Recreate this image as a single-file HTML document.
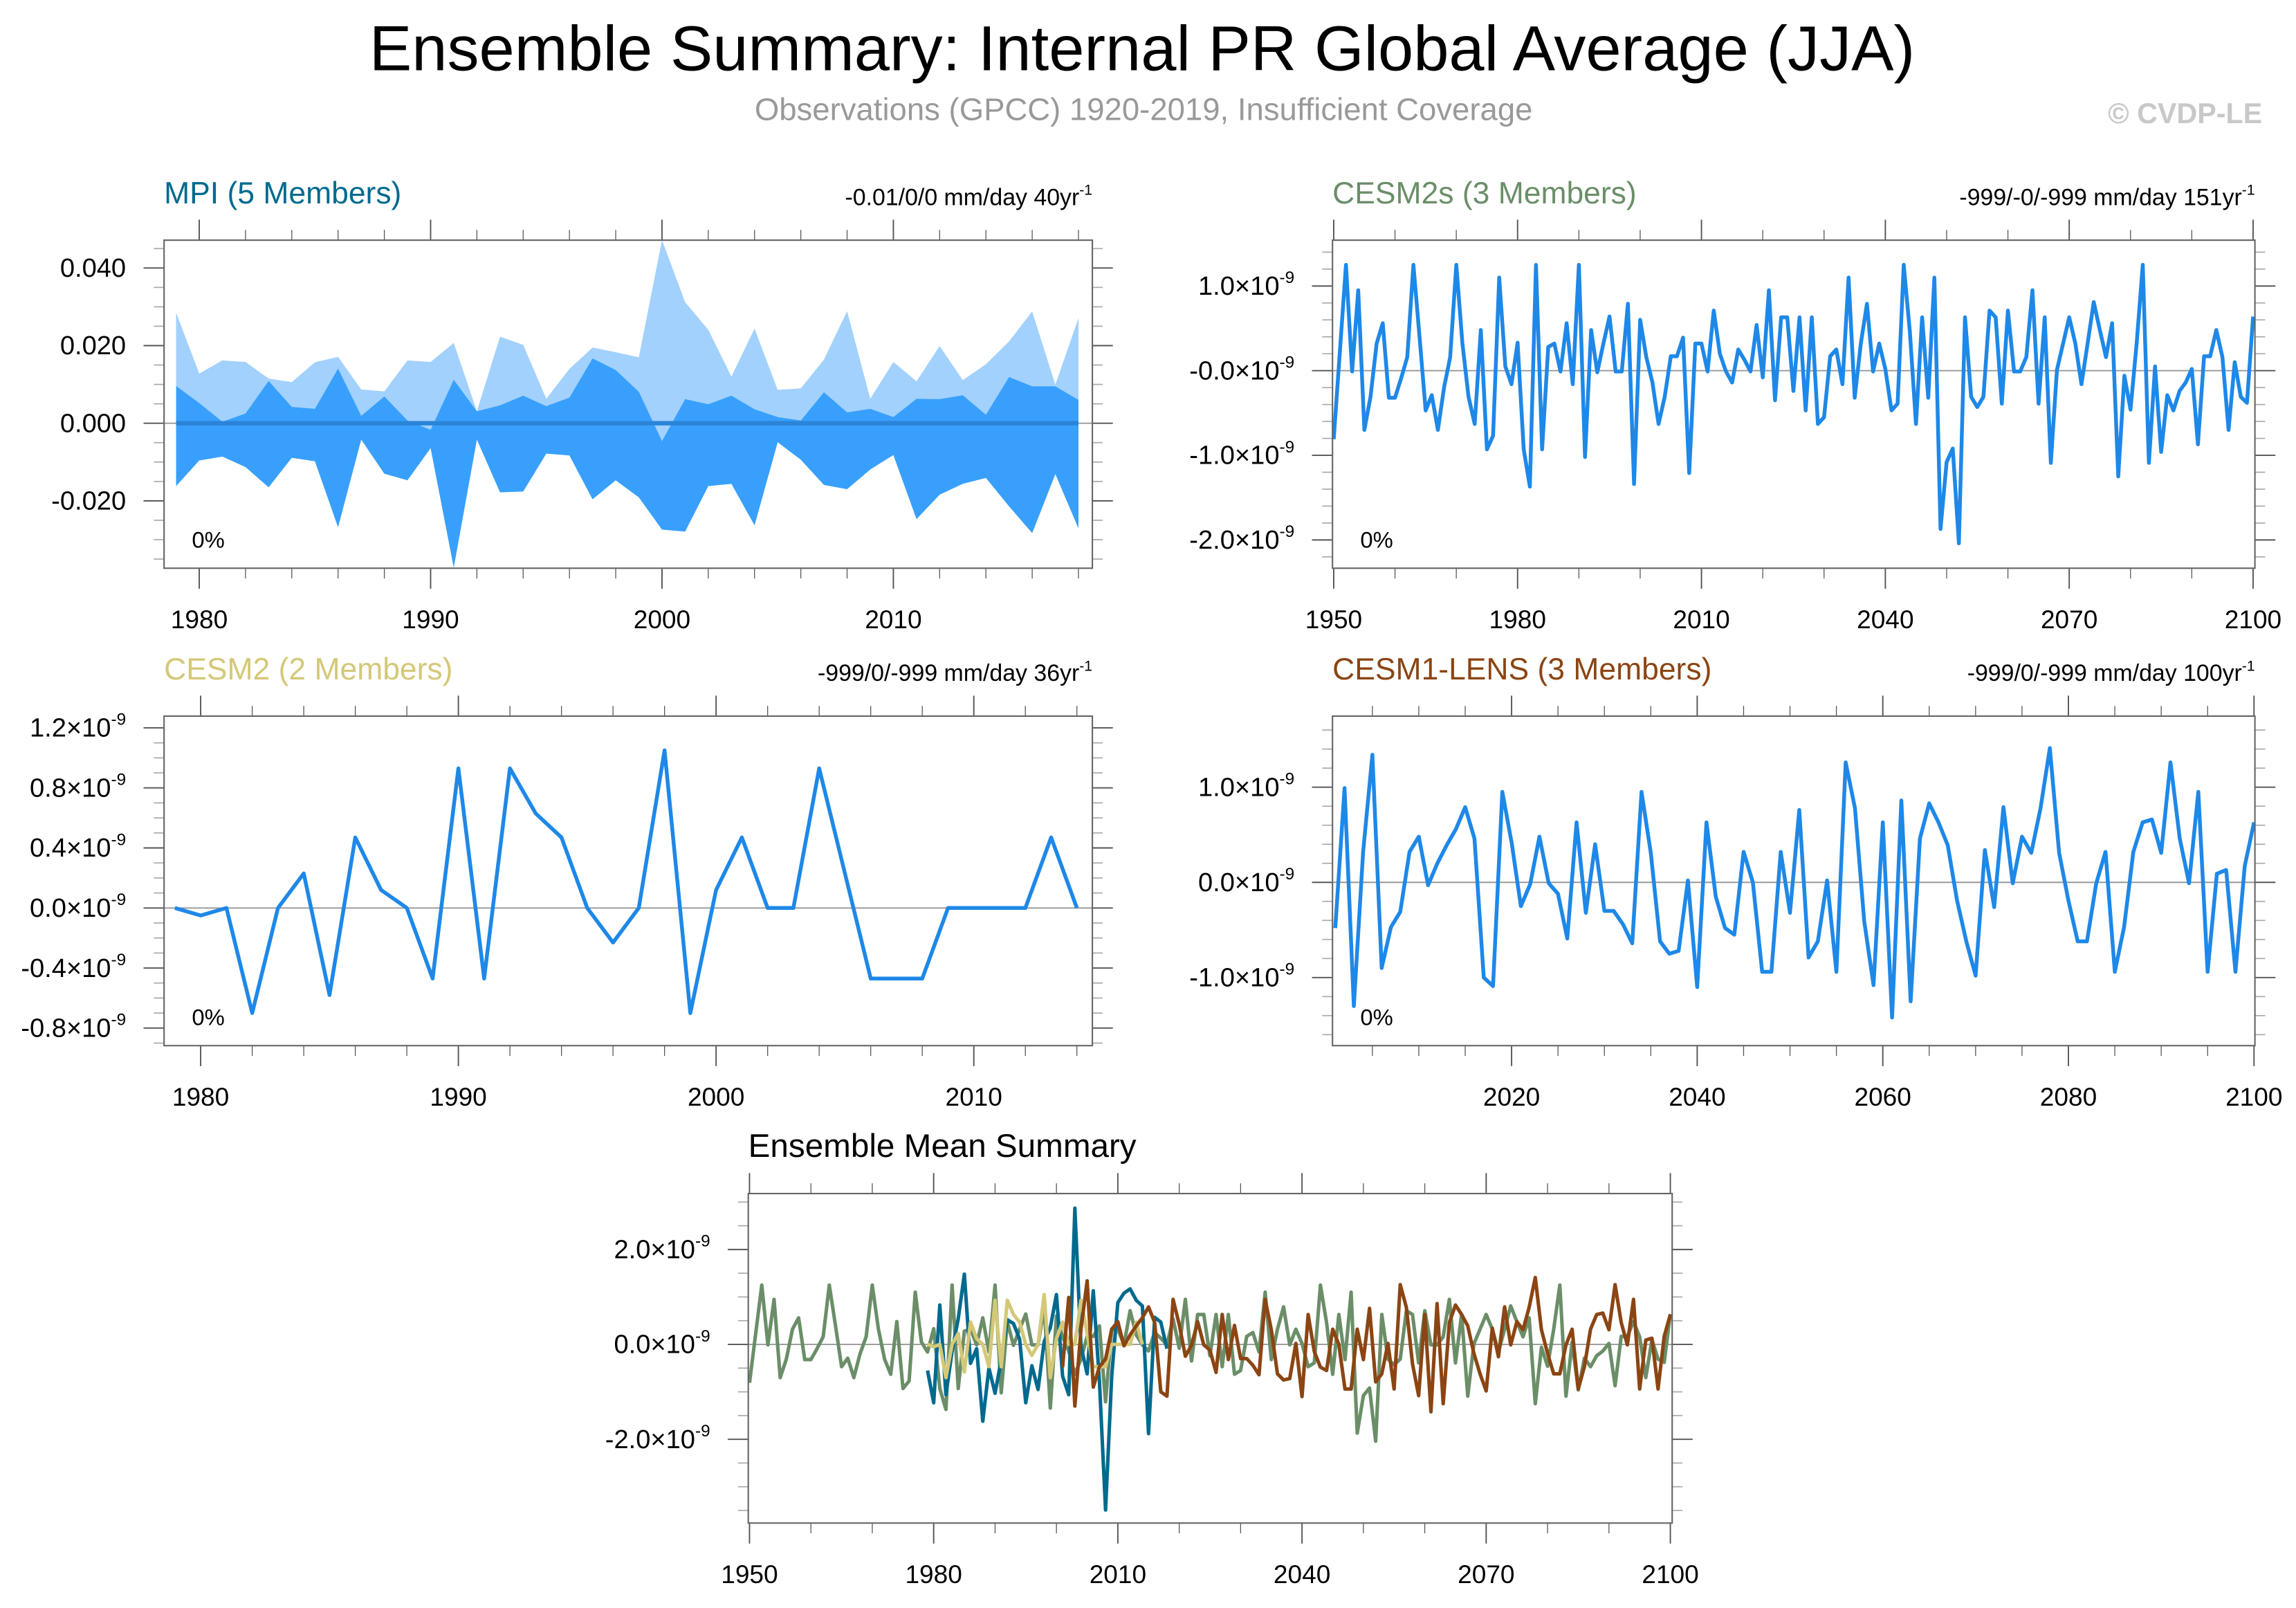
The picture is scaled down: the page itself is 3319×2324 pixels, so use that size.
<!DOCTYPE html>
<html><head><meta charset="utf-8"><style>
html,body{margin:0;padding:0;background:#fff}
svg{display:block;font-family:"Liberation Sans",sans-serif}
</style></head><body>
<svg id="chart" width="3319" height="2324" viewBox="0 0 1568 1098" xmlns="http://www.w3.org/2000/svg">
<rect x="0" y="0" width="1568" height="1098" fill="#fff"/>
<text x="780" y="48" font-size="43.5" text-anchor="middle" fill="#000">Ensemble Summary: Internal PR Global Average (JJA)</text>
<text x="781" y="82" font-size="21.5" text-anchor="middle" fill="#999">Observations (GPCC) 1920-2019, Insufficient Coverage</text>
<text x="1545" y="84" font-size="19.5" font-weight="bold" text-anchor="end" fill="#c8c8c8">© CVDP-LE</text>
<g id="panels"></g>
</svg>
<script>
// ---- data ----
const mpiYears = Array.from({length:40},(_,i)=>1979+i);
const mpiMax = [28.5,12.8,16.2,15.8,11.5,10.6,15.7,17.1,8.7,8.2,16.2,15.8,20.7,3.1,22.3,20.2,6.3,14.0,19.5,18.3,17.0,47.2,31.2,24.1,12.0,24.4,8.6,9.0,16.4,28.9,6.3,15.8,10.8,19.9,11.1,15.2,21.1,28.8,9.9,27.1];
const mpiUpper = [9.6,5.2,0.4,2.5,10.9,4.2,3.7,14.1,1.9,6.9,0.7,-1.7,11.2,3.1,4.6,7.1,4.4,6.6,16.7,13.7,8.1,-4.6,6.2,4.9,7.1,3.6,1.6,0.7,8.0,2.8,3.7,1.6,6.3,6.2,7.2,2.2,11.9,9.5,9.5,6.0];
const mpiLower = [-16.2,-9.6,-8.6,-11.3,-16.5,-8.9,-9.8,-26.8,-4.2,-13.0,-14.7,-6.4,-37.2,-4.2,-17.8,-17.6,-7.8,-8.3,-19.6,-14.7,-19.1,-27.4,-27.9,-16.2,-15.6,-26.3,-4.9,-9.4,-15.9,-17.0,-11.9,-8.2,-24.7,-18.4,-15.6,-14.1,-21.4,-28.3,-13.1,-27.1];
const mpiMean = mpiYears.map(()=>0);
const mpiEnsMean = [-0.55,-1.23,0.83,-1.06,-0.14,0.54,1.48,-0.40,-0.09,-1.62,-0.50,-1.03,-0.33,0.52,0.44,0.11,-1.23,-0.45,-0.95,0.06,0.35,1.05,-0.67,-1.06,2.87,-0.04,-0.62,1.13,-0.77,-3.49,-0.67,0.88,1.08,1.17,0.93,0.81,-1.88,0.57,0.47,-0.09];
const cesm2sYears = Array.from({length:151},(_,i)=>1950+i);
const cesm2sVals = [-0.81,0.22,1.25,-0.01,0.95,-0.70,-0.31,0.32,0.56,-0.32,
-0.32,-0.09,0.16,1.25,0.40,-0.47,-0.29,-0.70,-0.20,0.16,
1.25,0.32,-0.31,-0.63,0.48,-0.93,-0.77,1.10,0.05,-0.16,
0.33,-0.93,-1.37,1.25,-0.93,0.28,0.32,-0.01,0.56,-0.16,
1.25,-1.02,0.48,-0.02,0.32,0.64,-0.01,-0.01,0.79,-1.34,
0.60,0.16,-0.14,-0.63,-0.31,0.17,0.17,0.39,-1.21,0.32,
0.32,-0.01,0.71,0.20,-0.01,-0.14,0.25,0.13,-0.01,0.54,
-0.08,0.95,-0.35,0.63,0.63,-0.24,0.63,-0.47,0.63,-0.63,
-0.55,0.17,0.25,-0.16,1.10,-0.32,0.32,0.79,-0.01,0.32,
0.02,-0.47,-0.39,1.25,0.46,-0.63,0.63,-0.32,1.10,-1.87,
-1.08,-0.92,-2.04,0.63,-0.31,-0.43,-0.31,0.71,0.63,-0.39,
0.71,-0.01,-0.01,0.16,0.95,-0.39,0.63,-1.09,0.01,0.32,
0.63,0.32,-0.16,0.32,0.81,0.48,0.16,0.56,-1.25,-0.06,
-0.46,0.32,1.25,-1.09,0.05,-0.96,-0.29,-0.47,-0.24,-0.14,
0.02,-0.87,0.17,0.17,0.48,0.16,-0.70,0.10,-0.31,-0.38,
0.64];
const cesm2Years = Array.from({length:36},(_,i)=>1979+i);
const cesm2Vals = [0.0,-0.05,0.0,-0.7,0.0,0.23,-0.58,0.47,0.12,0.0,-0.47,0.93,-0.47,0.93,0.63,0.47,0.0,-0.23,0.0,1.05,-0.7,0.12,0.47,0,0,0.93,0.23,-0.47,-0.47,-0.47,0,0,0,0,0.47,0];
const lensYears = Array.from({length:100},(_,i)=>2001+i);
const lensVals = [-0.48,0.99,-1.30,0.32,1.34,-0.90,-0.47,-0.31,0.32,0.48,
-0.03,0.20,0.39,0.56,0.79,0.46,-1.00,-1.09,0.95,0.42,
-0.25,-0.02,0.48,-0.01,-0.12,-0.59,0.63,-0.32,0.40,-0.30,
-0.30,-0.44,-0.64,0.95,0.31,-0.62,-0.75,-0.72,0.02,-1.10,
0.63,-0.15,-0.48,-0.55,0.32,0.00,-0.94,-0.94,0.32,-0.32,
0.76,-0.79,-0.62,0.02,-0.94,1.26,0.78,-0.41,-1.08,0.63,
-1.42,0.86,-1.25,0.46,0.83,0.63,0.39,-0.19,-0.62,-0.98,
0.34,-0.26,0.79,-0.01,0.48,0.31,0.78,1.41,0.31,-0.19,
-0.62,-0.62,-0.01,0.32,-0.94,-0.47,0.32,0.63,0.66,0.31,
1.26,0.46,-0.01,0.95,-0.94,0.09,0.13,-0.94,0.17,0.63];

const NS='http://www.w3.org/2000/svg';
const root=document.getElementById('panels');
function mk(tag,attrs,parent){const e=document.createElementNS(NS,tag);for(const k in attrs)e.setAttribute(k,attrs[k]);(parent||root).appendChild(e);return e;}

function panel(cfg){
  const g=mk('g',{});
  
  
  const {x0,x1,y0,y1}=cfg;
  const sx=v=>x0+(v-cfg.xmin)/(cfg.xmax-cfg.xmin)*(x1-x0);
  const sy=v=>cfg.zeroY - v*cfg.pxPerUnit;
  const tickColor='#555';
  for(let t=cfg.xMinorStart;t<=cfg.xmax+0.001;t+=cfg.xMinor){
    if(t<cfg.xmin-0.001)continue;
    const major=Math.abs(((t-cfg.xMajorStart)%cfg.xMajor))<0.001;
    const L=major?14:7;
    const xx=sx(t);
    const tb=mk('line',{x1:xx,x2:xx,y1:y1,y2:y1+L,stroke:tickColor,'stroke-width':major?0.9:0.6},g);
    
    
    const tt=mk('line',{x1:xx,x2:xx,y1:y0,y2:y0-L,stroke:tickColor,'stroke-width':major?0.9:0.6},g);
    
    
    if(major){
      const lb=mk('text',{x:xx,y:y1+41,'font-size':17.5,'text-anchor':'middle',fill:'#000'},g);
      
      
      lb.textContent=String(Math.round(t));
    }
  }
  const ymaxV=(cfg.zeroY-y0)/cfg.pxPerUnit, yminV=-(y1-cfg.zeroY)/cfg.pxPerUnit;
  const nStart=Math.ceil(yminV/cfg.yMinor-1e-6), nEnd=Math.floor(ymaxV/cfg.yMinor+1e-6);
  for(let n=nStart;n<=nEnd;n++){
    const v=n*cfg.yMinor;
    const r=v/cfg.yMajor;
    const major=Math.abs(r-Math.round(r))<1e-6;
    const L=major?14:7;
    const yy=sy(v);
    const a=mk('line',{x1:x0-L,x2:x0,y1:yy,y2:yy,stroke:major?tickColor:'#aaa','stroke-width':major?0.9:0.8},g);
    
    
    const b=mk('line',{x1:x1,x2:x1+L,y1:yy,y2:yy,stroke:major?tickColor:'#aaa','stroke-width':major?0.9:0.8},g);
    
    
  }
  cfg.yLabels.forEach((lab,i)=>{
    const yy=sy(cfg.yLabelVals[i]);
    const t=mk('text',{x:x0-26,y:yy+6,'font-size':18,'text-anchor':'end',fill:'#000'},g);
    
    
    if(cfg.sci){
      const t1=mk('tspan',{},t);t1.textContent=lab+'\u00d710';
      const t2=mk('tspan',{'font-size':11.5,dy:-8},t);t2.textContent='-9';
    } else t.textContent=lab;
  });
  const z=mk('line',{x1:x0,x2:x1,y1:sy(0),y2:sy(0),stroke:'#999','stroke-width':0.9},g);
  
  
  const clip=mk('clipPath',{id:'c'+cfg.name},g);
  mk('rect',{x:x0,y:y0,width:x1-x0,height:y1-y0},clip);
  const dg=mk('g',{'clip-path':'url(#c'+cfg.name+')'},g);
  cfg.draw(dg,sx,sy);
  const f=mk('rect',{x:x0,y:y0,width:x1-x0,height:y1-y0,fill:'none',stroke:'#666','stroke-width':1},g);
  
  
  const tl=mk('text',{x:x0,y:y0-25,'font-size':cfg.titleSize||21,fill:cfg.titleColor},g);
  
  
  tl.textContent=cfg.title;
  if(cfg.right){
    const tr=mk('text',{x:x1,y:y0-24,'font-size':16,'text-anchor':'end',fill:'#000'},g);
    
    
    const a=mk('tspan',{},tr);a.textContent=cfg.right;
    const b=mk('tspan',{'font-size':10,dy:-7},tr);b.textContent='-1';
  }
  if(cfg.pct){
    const p=mk('text',{x:x0+19,y:y1-14,'font-size':15.5,fill:'#000'},g);
    
    
    p.textContent='0%';
  }
}
function line(g,xs,ys,sx,sy,color,name,w){
  const d=xs.map((x,i)=>(i?'L':'M')+sx(x).toFixed(2)+','+sy(ys[i]).toFixed(2)).join('');
  const p=mk('path',{d:d,fill:'none',stroke:color,'stroke-width':w||2.6,'stroke-linejoin':'round'},g);
  
  
}
function band(g,xs,hi,lo,sx,sy,color,name){
  let d=xs.map((x,i)=>(i?'L':'M')+sx(x).toFixed(2)+','+sy(hi[i]).toFixed(2)).join('');
  for(let i=xs.length-1;i>=0;i--)d+='L'+sx(xs[i]).toFixed(2)+','+sy(lo[i]).toFixed(2);
  const p=mk('path',{d:d+'Z',fill:color,stroke:'none'},g);
  
  
}
const B='#1e88e8';
panel({name:'mpi-panel',x0:112,x1:746,y0:164,y1:388,xmin:1978.48,xmax:2018.6,zeroY:289,pxPerUnit:2.65,
  xMajor:10,xMajorStart:1980,xMinor:2,xMinorStart:1978,yMajor:20,yMinor:5,
  yLabels:['0.040','0.020','0.000','-0.020'],yLabelVals:[40,20,0,-20],sci:false,
  title:'MPI (5 Members)',titleColor:'#006a8e',right:'-0.01/0/0 mm/day 40yr',pct:true,
  draw:(g,sx,sy)=>{
    band(g,mpiYears,mpiMax,mpiLower,sx,sy,'#a2d1fd','mpi-range-band');
    band(g,mpiYears,mpiUpper,mpiLower,sx,sy,'#38a0fc','mpi-spread-band');
    line(g,mpiYears,mpiMean,sx,sy,'#2b84d8','mpi-mean-line',3);
  }});
panel({name:'cesm2s-panel',x0:910,x1:1540,y0:164,y1:388,xmin:1949.8,xmax:2100.3,zeroY:253.1,pxPerUnit:57.8,
  xMajor:30,xMajorStart:1950,xMinor:10,xMinorStart:1950,yMajor:1,yMinor:0.2,
  yLabels:['1.0','-0.0','-1.0','-2.0'],yLabelVals:[1,0,-1,-2],sci:true,
  title:'CESM2s (3 Members)',titleColor:'#6b8e68',right:'-999/-0/-999 mm/day 151yr',pct:true,
  draw:(g,sx,sy)=>line(g,cesm2sYears,cesm2sVals,sx,sy,B,'cesm2s-line')});
panel({name:'cesm2-panel',x0:112,x1:746,y0:489,y1:714,xmin:1978.58,xmax:2014.6,zeroY:620,pxPerUnit:102.5,
  xMajor:10,xMajorStart:1980,xMinor:2,xMinorStart:1980,yMajor:0.4,yMinor:0.1,
  yLabels:['1.2','0.8','0.4','0.0','-0.4','-0.8'],yLabelVals:[1.2,0.8,0.4,0,-0.4,-0.8],sci:true,
  title:'CESM2 (2 Members)',titleColor:'#d4c878',right:'-999/0/-999 mm/day 36yr',pct:true,
  draw:(g,sx,sy)=>line(g,cesm2Years,cesm2Vals,sx,sy,B,'cesm2-line')});
panel({name:'cesm1-lens-panel',x0:910,x1:1540,y0:489,y1:714,xmin:2000.7,xmax:2100.1,zeroY:602.5,pxPerUnit:65,
  xMajor:20,xMajorStart:2020,xMinor:5,xMinorStart:2005,yMajor:1,yMinor:0.2,
  yLabels:['1.0','0.0','-1.0'],yLabelVals:[1,0,-1],sci:true,
  title:'CESM1-LENS (3 Members)',titleColor:'#8b4513',right:'-999/0/-999 mm/day 100yr',pct:true,
  draw:(g,sx,sy)=>line(g,lensYears,lensVals,sx,sy,B,'cesm1-lens-line')});
panel({name:'ensemble-mean-panel',x0:511,x1:1142,y0:815,y1:1040,xmin:1949.8,xmax:2100.3,zeroY:918,pxPerUnit:32.4,
  xMajor:30,xMajorStart:1950,xMinor:10,xMinorStart:1950,yMajor:2,yMinor:0.5,
  yLabels:['2.0','0.0','-2.0'],yLabelVals:[2,0,-2],sci:true,titleSize:22.5,
  title:'Ensemble Mean Summary',titleColor:'#000',right:null,pct:false,
  draw:(g,sx,sy)=>{
    line(g,cesm2sYears,cesm2sVals,sx,sy,'#6b8e68','cesm2s-mean-line',2.4);
    line(g,mpiYears,mpiEnsMean,sx,sy,'#006a8e','mpi-mean-line',2.4);
    line(g,cesm2Years,cesm2Vals,sx,sy,'#d4c878','cesm2-mean-line',2.4);
    line(g,lensYears,lensVals,sx,sy,'#8b4513','cesm1-lens-mean-line',2.4);
  }});
</script>
</body></html>
